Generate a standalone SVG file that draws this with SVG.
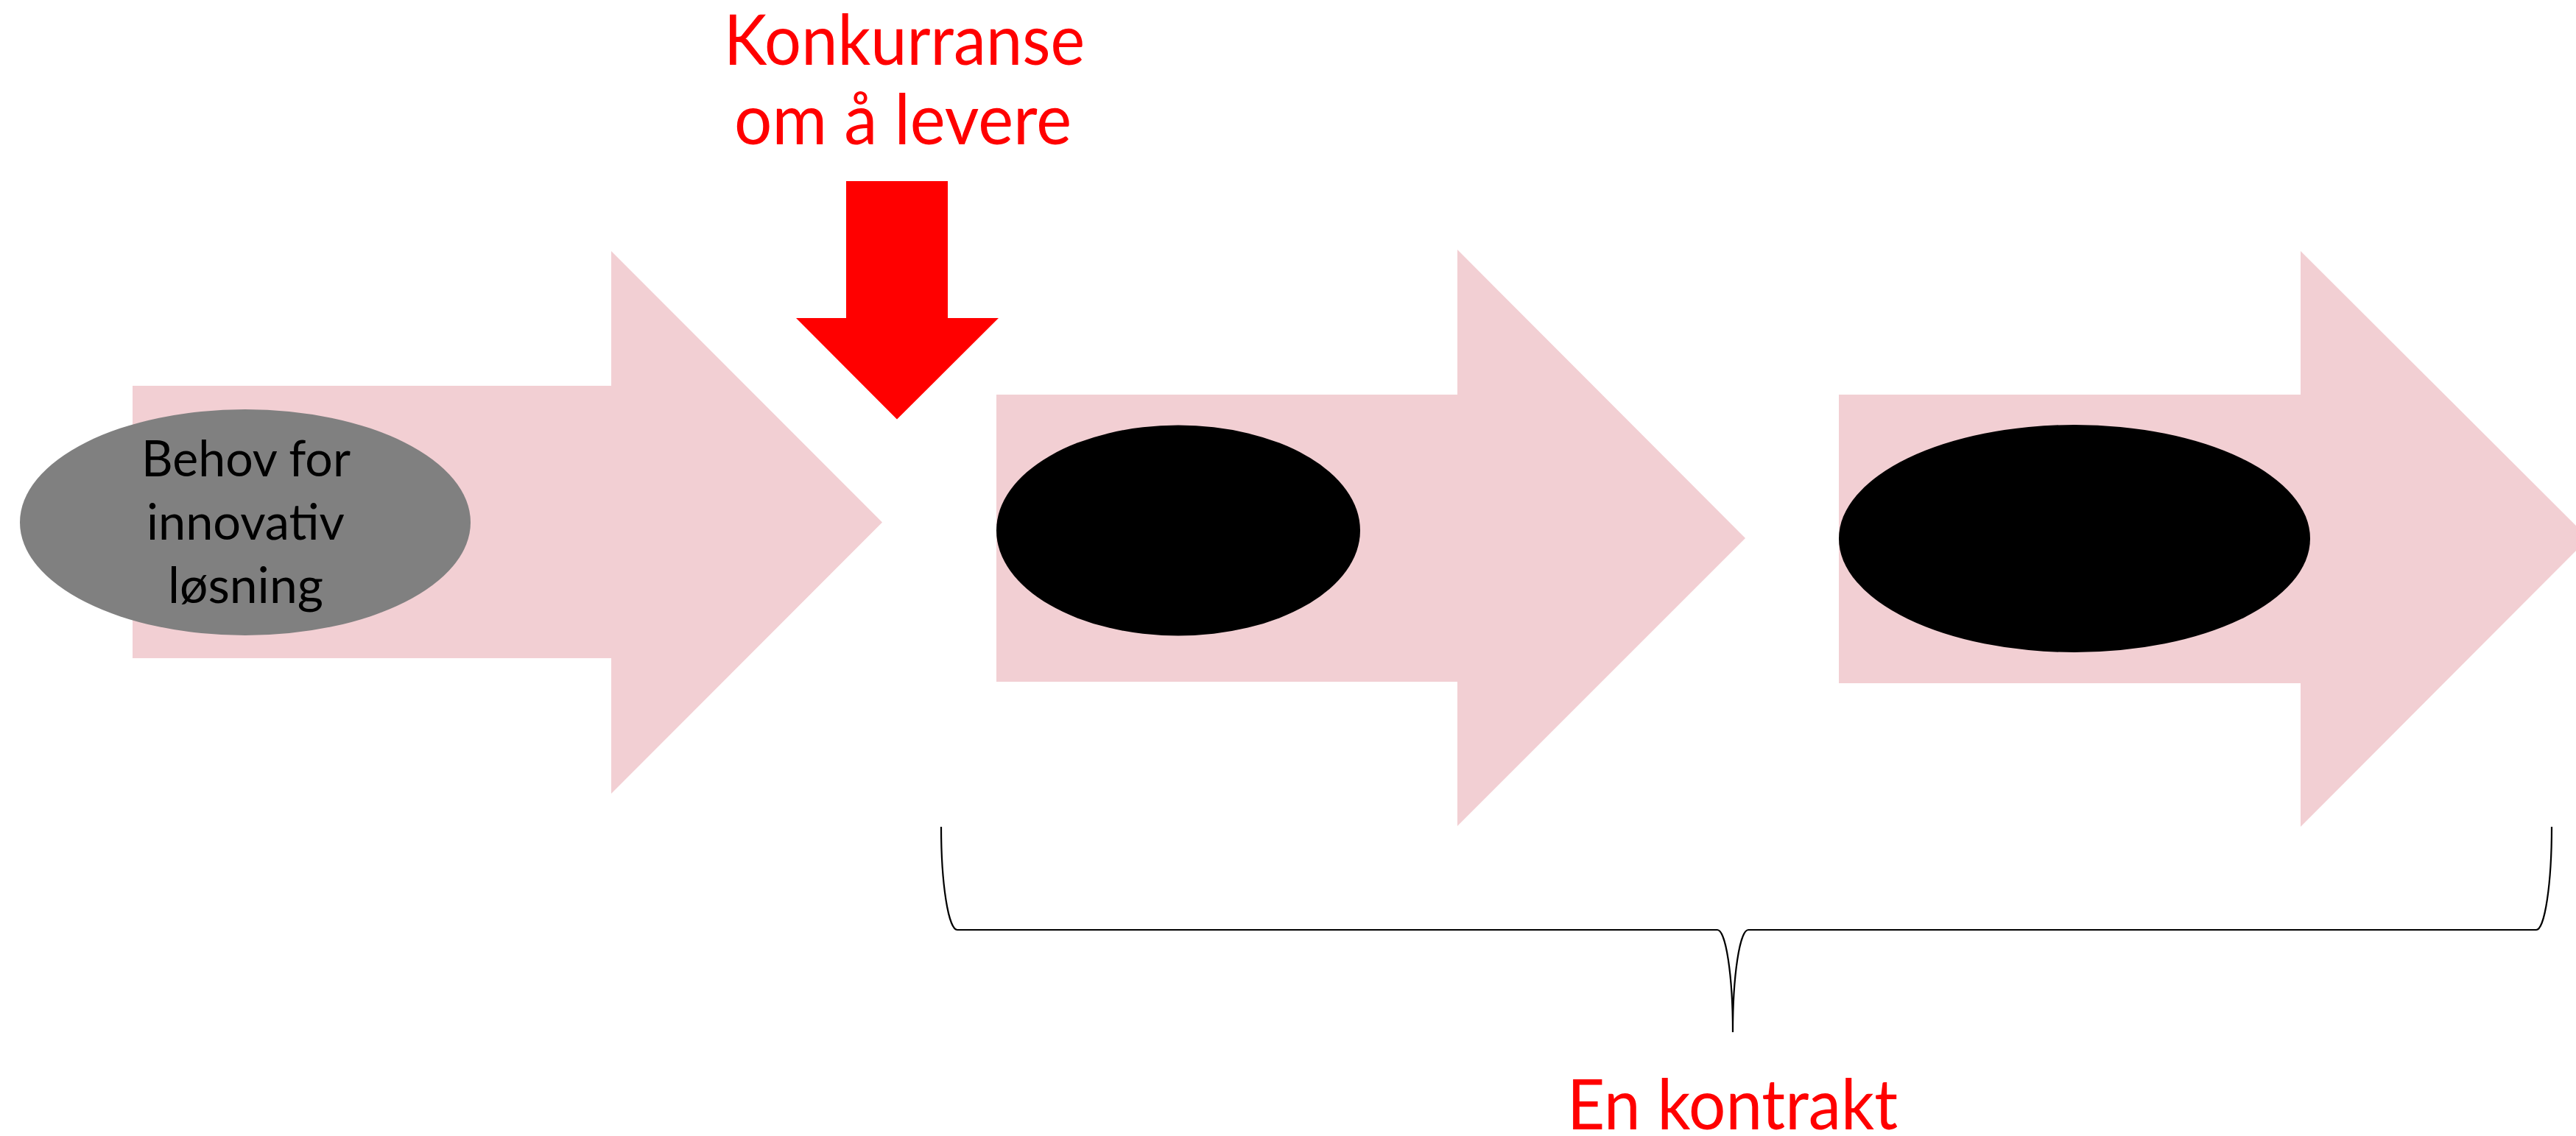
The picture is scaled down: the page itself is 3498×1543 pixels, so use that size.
<svg xmlns="http://www.w3.org/2000/svg" width="3498" height="1543" viewBox="0 0 3498 1543">
  <style>
    .stage { fill: #F2CFD3; }
    .push { fill: #FF0000; }
    .label-red { font-family: Lato, "Liberation Sans", sans-serif; font-size: 95px; fill: #FF0000; }
    .label-dark { font-family: Lato, "Liberation Sans", sans-serif; font-size: 68px; fill: #000000; }
    .brace { fill: none; stroke: #000000; stroke-width: 2.2; }
  </style>

  <rect width="3498" height="1543" fill="#FFFFFF"/>

  <!-- stage 1: the need -->
  <g id="stage-need">
    <polygon class="stage" points="180,524 830,524 830,341 1198,709.5 830,1078 830,894 180,894"/>
    <ellipse cx="333" cy="709.5" rx="306" ry="153.5" fill="#808080"/>
    <text class="label-dark" x="192" y="647" textLength="284" lengthAdjust="spacingAndGlyphs">Behov for</text>
    <text class="label-dark" x="199" y="733" textLength="269" lengthAdjust="spacingAndGlyphs">innovativ</text>
    <text class="label-dark" x="228" y="819" textLength="211" lengthAdjust="spacingAndGlyphs">løsning</text>
  </g>

  <!-- stage 2 -->
  <g id="stage-two">
    <polygon class="stage" points="1353,536 1979,536 1979,339 2370,731 1979,1122 1979,926 1353,926"/>
    <ellipse cx="1600" cy="720.5" rx="247" ry="143" fill="#000000"/>
  </g>

  <!-- stage 3 (head runs past the right edge) -->
  <g id="stage-three">
    <polygon class="stage" points="2497,536 3124,536 3124,341 3515,731 3124,1123 3124,928 2497,928"/>
    <ellipse cx="2817" cy="731.5" rx="320" ry="154.5" fill="#000000"/>
  </g>

  <!-- competition entering between stage 1 and 2 -->
  <g id="competition">
    <text class="label-red" x="983" y="88" textLength="490" lengthAdjust="spacingAndGlyphs">Konkurranse</text>
    <text class="label-red" x="997" y="196" textLength="458" lengthAdjust="spacingAndGlyphs">om å levere</text>
  </g>

  <g id="connectors">
    <polygon class="push" points="1149,246 1287,246 1287,432 1356,432 1218,569.5 1081,432 1149,432"/>
    <path class="brace" d="M1278,1123 A22,140 0 0 0 1300,1263 L2332,1263 A21,139 0 0 1 2353,1402 A21,139 0 0 1 2374,1263 L3444,1263 A21,140 0 0 0 3465,1123"/>
  </g>

  <!-- span covered by the single contract -->
  <g id="contract">
    <text class="label-red" x="2128" y="1534" textLength="449" lengthAdjust="spacingAndGlyphs">En kontrakt</text>
  </g>
</svg>
